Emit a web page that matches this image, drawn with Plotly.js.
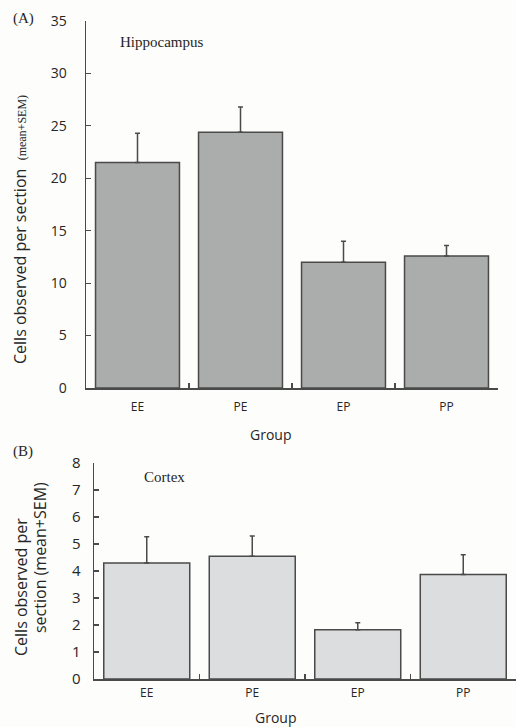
<!DOCTYPE html>
<html>
<head>
<meta charset="utf-8">
<script src="https://cdn.plot.ly/plotly-3.0.1.min.js"></script>
<style>html,body{margin:0;padding:0;background:#fdfdfb;}#chart{width:516px;height:727px;}</style>
</head>
<body>
<div id="chart"></div>
<script>
const groups = ["EE", "PE", "EP", "PP"];
const hippocampusMean = [21.5, 24.4, 12.0, 12.6];
const hippocampusSEM = [2.8, 2.4, 2.0, 1.0];
const cortexMean = [4.3, 4.55, 1.82, 3.87];
const cortexSEM = [0.97, 0.75, 0.26, 0.73];
const yTicksA = [0, 5, 10, 15, 20, 25, 30, 35];
const yTicksB = [0, 1, 2, 3, 4, 5, 6, 7, 8];

const W = 516, H = 727;
const px = x => x / W;
const py = y => 1 - y / H;

const sans = "Open Sans, DejaVu Sans, sans-serif";
const serif = "Liberation Serif, DejaVu Serif, serif";
const ink = "#262626";

const traces = [
  {
    type: "bar", x: groups, y: hippocampusMean, xaxis: "x", yaxis: "y",
    marker: {color: "#abadac", line: {color: "#4a4a4a", width: 1.5}},
    error_y: {type: "data", symmetric: false, array: hippocampusSEM, arrayminus: [0,0,0,0],
              color: "#4a4a4a", thickness: 1.5, width: 2.5},
    hoverinfo: "skip"
  },
  {
    type: "bar", x: groups, y: cortexMean, xaxis: "x2", yaxis: "y2",
    marker: {color: "#dcdddf", line: {color: "#4a4a4a", width: 1.5}},
    error_y: {type: "data", symmetric: false, array: cortexSEM, arrayminus: [0,0,0,0],
              color: "#4a4a4a", thickness: 1.5, width: 2.5},
    hoverinfo: "skip"
  }
];

const xaxisCommon = {
  type: "category", range: [-0.5, 3.5], showline: true, linecolor: "#4a4a4a", linewidth: 1.5,
  ticks: "inside", tickson: "boundaries", ticklen: 5, tickcolor: "#4a4a4a", tickwidth: 1.2,
  showgrid: false, zeroline: false, fixedrange: true,
  tickfont: {family: sans, size: 12, color: ink}
};
const yaxisCommon = {
  showline: true, linecolor: "#4a4a4a", linewidth: 1.5,
  ticks: "inside", ticklen: 5, tickcolor: "#4a4a4a", tickwidth: 1.2,
  showgrid: false, zeroline: false, fixedrange: true,
  tickfont: {family: sans, size: 14, color: ink}
};

const layout = {
  width: W, height: H,
  margin: {l: 0, r: 0, t: 0, b: 0},
  paper_bgcolor: "#fdfdfb", plot_bgcolor: "rgba(0,0,0,0)",
  showlegend: false, bargap: 0.185,
  xaxis: Object.assign({}, xaxisCommon, {domain: [px(86), px(498)], anchor: "y", ticklabelstandoff: 7}),
  yaxis: Object.assign({}, yaxisCommon, {domain: [py(388), py(21)], range: [0, 35],
          tickvals: yTicksA, ticktext: yTicksA.map(String), anchor: "x", ticklabelstandoff: 15}),
  xaxis2: Object.assign({}, xaxisCommon, {domain: [px(94), px(516)], anchor: "y2", ticklabelstandoff: 2}),
  yaxis2: Object.assign({}, yaxisCommon, {domain: [py(679), py(463)], range: [0, 8],
          tickvals: yTicksB, ticktext: yTicksB.map(String), anchor: "x2", ticklabelstandoff: 9,
          tickfont: {family: sans, size: 15, color: ink}}),
  annotations: [
    {text: "(A)", x: px(11), y: py(18), xref: "paper", yref: "paper", xanchor: "left", yanchor: "middle",
     showarrow: false, font: {family: serif, size: 15, color: ink}},
    {text: "Hippocampus", x: px(118), y: py(42), xref: "paper", yref: "paper", xanchor: "left", yanchor: "middle",
     showarrow: false, font: {family: serif, size: 15, color: ink}},
    {text: "Cells observed per section  <span style='font-family:Liberation Serif, serif;font-size:12px'>(mean+SEM)</span>",
     x: px(20), y: py(230), xref: "paper", yref: "paper", xanchor: "center", yanchor: "middle", textangle: -90,
     showarrow: false, font: {family: sans, size: 16, color: ink}},
    {text: "Group", x: px(270), y: py(434), xref: "paper", yref: "paper", xanchor: "center", yanchor: "middle",
     showarrow: false, font: {family: sans, size: 14, color: ink}},
    {text: "(B)", x: px(11), y: py(451), xref: "paper", yref: "paper", xanchor: "left", yanchor: "middle",
     showarrow: false, font: {family: serif, size: 15, color: ink}},
    {text: "Cortex", x: px(142), y: py(477), xref: "paper", yref: "paper", xanchor: "left", yanchor: "middle",
     showarrow: false, font: {family: serif, size: 15, color: ink}},
    {text: "Cells observed per", x: px(21), y: py(587), xref: "paper", yref: "paper", xanchor: "center", yanchor: "middle", textangle: -90,
     showarrow: false, font: {family: sans, size: 16, color: ink}},
    {text: "section (mean+SEM)", x: px(40), y: py(558), xref: "paper", yref: "paper", xanchor: "center", yanchor: "middle", textangle: -90,
     showarrow: false, font: {family: sans, size: 16, color: ink}},
    {text: "Group", x: px(275), y: py(717), xref: "paper", yref: "paper", xanchor: "center", yanchor: "middle",
     showarrow: false, font: {family: sans, size: 14, color: ink}}
  ]
};

Plotly.newPlot("chart", traces, layout, {staticPlot: true, displayModeBar: false});
</script>
</body>
</html>
